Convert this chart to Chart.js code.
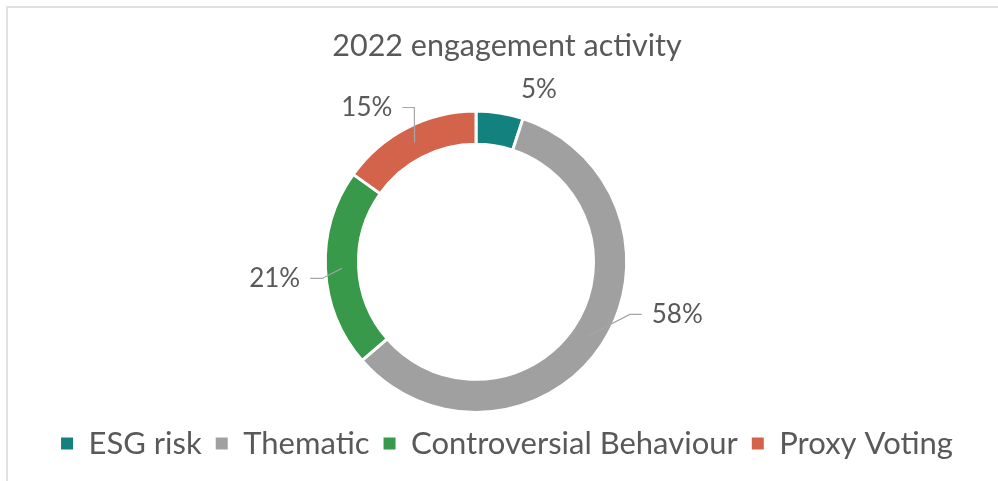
<!DOCTYPE html>
<html>
<head>
<meta charset="utf-8">
<script src="https://cdn.jsdelivr.net/npm/chart.js@4.4.0/dist/chart.umd.min.js"></script>
<style>
  html, body { margin: 0; padding: 0; background: #fff; }
  #wrap { position: relative; width: 998px; height: 481px; overflow: hidden; }
  #frame { position: absolute; left: 6px; top: 6px; right: -10px; bottom: -10px;
           border-top: 2px solid #e1e1e1; border-left: 2px solid #e1e1e1; }
  canvas { position: absolute; left: 0; top: 0; }
</style>
</head>
<body>
<div id="wrap">
  <div id="frame"></div>
  <canvas id="donut" width="998" height="481"></canvas>
</div>
<script>
const categories = ['ESG risk', 'Thematic', 'Controversial Behaviour', 'Proxy Voting'];
const shares = [5, 58, 21, 15];
const sliceColors = ['#13827f', '#a0a0a0', '#38994a', '#d4634b'];

// where each % label sits, relative to the middle of its slice (Excel "best fit" look)
const labelTurn = [11, -19, -2, -8];      // degrees, clockwise
const labelDist = [183, 208, 202, 189];   // px from centre
const labelLeader = [false, true, true, true];

const textColor = '#595959';
const fontFamily = 'Lato, "Open Sans", sans-serif';

// the doughnut sits a bit left of the title/legend in the original
const pieShift = {
  id: 'pieShift',
  afterLayout(chart, args, opts) {
    chart.chartArea.left += opts.dx;
    chart.chartArea.right += opts.dx;
  }
};

const pctLabels = {
  id: 'pctLabels',
  afterDatasetsDraw(chart) {
    const ctx = chart.ctx;
    const meta = chart.getDatasetMeta(0);
    ctx.save();
    ctx.font = '26px ' + fontFamily;
    ctx.textBaseline = 'middle';
    ctx.textAlign = 'center';
    meta.data.forEach((arc, i) => {
      const p = arc.getProps(['x', 'y', 'startAngle', 'endAngle', 'innerRadius', 'outerRadius'], true);
      const mid = (p.startAngle + p.endAngle) / 2;
      const ringR = (p.innerRadius + p.outerRadius) / 2;
      const ax = p.x + Math.cos(mid) * ringR;
      const ay = p.y + Math.sin(mid) * ringR;
      const a = mid + labelTurn[i] * Math.PI / 180;
      const tx = p.x + Math.cos(a) * labelDist[i];
      const ty = p.y + Math.sin(a) * labelDist[i];
      const text = shares[i] + '%';
      ctx.fillStyle = textColor;
      ctx.fillText(text, tx, ty);
      if (labelLeader[i]) {
        const w = ctx.measureText(text).width;
        const side = ax > tx ? 1 : -1;
        const sx = tx + side * (w / 2 + 10);
        const ex = sx + side * 12;
        ctx.beginPath();
        ctx.moveTo(sx, ty);
        ctx.lineTo(ex, ty);
        ctx.lineTo(ax, ay);
        ctx.strokeStyle = '#a6a6a6';
        ctx.lineWidth = 1.2;
        ctx.stroke();
      }
    });
    ctx.restore();
  }
};

new Chart(document.getElementById('donut'), {
  type: 'doughnut',
  data: {
    labels: categories,
    datasets: [{
      data: shares,
      backgroundColor: sliceColors,
      borderColor: '#ffffff',
      borderWidth: 3,
      hoverOffset: 0,
    }]
  },
  options: {
    responsive: false,
    animation: false,
    cutout: '78%',
    layout: { padding: { left: 16, right: 0, top: 0, bottom: 12 } },
    plugins: {
      title: {
        display: true,
        text: '2022 engagement activity',
        color: textColor,
        font: { family: fontFamily, size: 30.5, weight: 'normal' },
        padding: { top: 28, bottom: 45 },
      },
      legend: {
        position: 'bottom',
        labels: {
          boxWidth: 12,
          boxHeight: 12,
          padding: 14,
          color: textColor,
          font: { family: fontFamily, size: 31 },
          // no white slice border around the legend squares
          generateLabels(chart) {
            const items = Chart.overrides.doughnut.plugins.legend.labels.generateLabels(chart);
            items.forEach(it => { it.lineWidth = 0; });
            return items;
          }
        }
      },
      tooltip: { enabled: false },
      pieShift: { dx: -31 },
    }
  },
  plugins: [pieShift, pctLabels]
});
</script>
</body>
</html>
